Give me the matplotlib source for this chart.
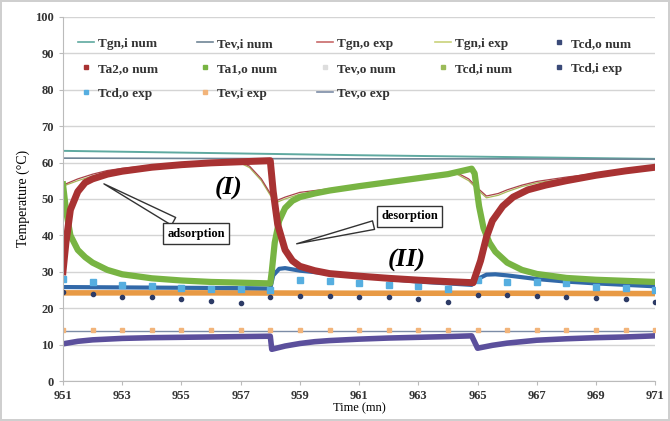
import matplotlib
matplotlib.use("Agg")
import matplotlib.pyplot as plt
from matplotlib.lines import Line2D

plt.rcParams['font.family'] = ['Liberation Serif', 'DejaVu Serif']
plt.rcParams['font.weight'] = 'bold'

# --- data ---
minutes = list(range(951, 972))

t_red = [951, 951.1, 951.25, 951.5, 951.75, 952, 952.5, 953, 954, 955, 956, 957, 958,
         958.1, 958.25, 958.5, 958.75, 959, 959.5, 960, 961, 962, 963, 964, 964.85,
         965.1, 965.3, 965.5, 965.85, 966.2, 966.7, 967.3, 968, 969, 970, 971]
ta2o_num = [30, 38, 47, 52, 54.5, 55.5, 56.8, 57.6, 58.7, 59.4, 59.9, 60.2, 60.5,
            52, 43, 36, 33, 31.5, 30.3, 29.5, 28.8, 28.2, 27.7, 27.3, 27.0,
            33, 39.5, 44, 48, 50.5, 52.5, 53.8, 55, 56.5, 57.7, 58.7]

t_green = [951, 951.1, 951.25, 951.5, 951.75, 952, 952.5, 953, 954, 955, 956, 957, 958,
           958.05, 958.15, 958.3, 958.5, 958.75, 959, 959.5, 960, 961, 962, 963, 964, 964.8,
           964.9, 965.05, 965.2, 965.4, 965.6, 966, 966.5, 967, 968, 969, 970, 971]
ta1o_num = [54, 47, 40, 36, 34, 32.5, 30.5, 29.3, 28.2, 27.6, 27.2, 27, 26.8,
            30, 38, 44, 47.5, 49.5, 50.5, 51.5, 52.3, 53.5, 54.6, 55.7, 56.8, 58.3,
            57, 48, 42, 38, 35.5, 32.5, 30.5, 29.4, 28.3, 27.8, 27.5, 27.2]

t_blue = [951, 953, 955, 957, 958, 958.1, 958.3, 958.5, 959, 960, 961, 962, 963, 964, 964.8,
          965, 965.3, 965.6, 966, 967, 968, 969, 970, 971]
tcdo_num = [25.8, 25.7, 25.6, 25.5, 25.4, 29, 30.8, 31, 30.3, 29.5, 28.8, 28, 27.3, 26.8, 26.4,
            28, 29.2, 29.3, 29, 28, 27.3, 26.8, 26.4, 26]

t_purple = [951, 951.5, 952, 953, 954, 955, 956, 957, 958,
            958.05, 958.5, 959, 959.5, 960, 961, 962, 963, 964, 964.8,
            965, 965.5, 966, 967, 968, 969, 970, 971]
tevo_num = [10.2, 10.9, 11.3, 11.7, 11.9, 12, 12.1, 12.2, 12.3,
            8.7, 9.6, 10.3, 10.8, 11.1, 11.5, 11.8, 12.0, 12.2, 12.4,
            9.0, 9.8, 10.4, 11.2, 11.6, 11.9, 12.1, 12.4]

t_flat = [951, 956, 961, 966, 971]
tcdi_num = [24.2, 24.2, 24.1, 24.1, 24.0]
tgni_num = [63.2, 62.6, 62.0, 61.5, 61.0]
tevi_num = [61.2, 61.1, 61.0, 61.0, 60.9]
tevo_exp = [13.8, 13.8, 13.8, 13.8, 13.8]

t_exp = [951, 951.5, 952, 952.5, 953, 954, 955, 956, 957, 957.3, 957.7, 958, 958.2,
         958.5, 959, 960, 961, 962, 963, 964, 964.3, 964.7, 965, 965.3, 965.7, 966,
         966.5, 967, 968, 969, 970, 971]
tgno_exp = [53.8, 55.5, 56.8, 57.8, 58.4, 59.2, 59.7, 60.0, 60.1, 59.0, 55.5, 51.5, 49.5,
            50.5, 51.8, 52.8, 53.8, 54.8, 55.8, 56.8, 57.2, 55.5, 53, 50.8, 51.5, 52.5,
            53.8, 54.8, 56, 57, 57.8, 58.6]
tgni_exp = [53.5, 55, 56.3, 57.3, 58, 58.9, 59.4, 59.7, 59.8, 58.6, 55, 51, 49,
            50, 51.3, 52.3, 53.3, 54.3, 55.3, 56.3, 56.8, 55, 52.5, 50.3, 51, 52,
            53.4, 54.4, 55.6, 56.6, 57.4, 58.2]

tcdo_exp = [28, 27.2, 26.3, 26.1, 25.6, 25.4, 25.2, 25, 27.7, 27.4, 27, 26.5, 26, 25.3,
            27.6, 27.2, 27.1, 27, 25.8, 25.5, 25.1]
tcdi_exp = [24.5, 24, 23.2, 23, 22.5, 22, 21.5, 23, 23.4, 23.3, 23.2, 23, 22.5, 21.8,
            23.6, 23.5, 23.3, 23, 22.8, 22.4, 21.8]
tevi_exp = [14.0] * 21

xticks = list(range(951, 972, 2))

# --- figure ---
fig = plt.figure(figsize=(6.7, 4.21), dpi=100)
fig.patch.set_edgecolor('#cfcfcf')
fig.patch.set_linewidth(1.5)
ax = fig.add_axes([0.094, 0.095, 0.884, 0.865])

ax.plot(t_flat, tgni_num, color='#5fa9a0', lw=1.4)
ax.plot(t_flat, tevi_num, color='#6f8596', lw=1.2)
ax.plot(t_flat, tevo_exp, color='#7c8ca6', lw=1.0)
ax.plot(t_flat, tcdi_num, color='#e89a45', lw=4)
ax.plot(minutes, tevi_exp, ls='none', marker='s', ms=3, color='#f2b47a')
ax.plot(t_purple, tevo_num, color='#5b4f9c', lw=4, solid_capstyle='butt')
ax.plot(t_blue, tcdo_num, color='#3168a8', lw=3)
ax.plot(minutes, tcdo_exp, ls='none', marker='s', ms=4.5, color='#56aee0')
ax.plot(minutes, tcdi_exp, ls='none', marker='o', ms=3, color='#2d3b66')
ax.plot(t_exp, tgni_exp, color='#a9b85a', lw=0.9)
ax.plot(t_exp, tgno_exp, color='#a8444a', lw=0.9)
ax.plot(t_green, ta1o_num, color='#78b443', lw=4.5)
ax.plot(t_red, ta2o_num, color='#a83232', lw=5)

ax.set_xlim(951, 971)
ax.set_ylim(0, 100)
ax.set_xticks(xticks)
ax.set_yticks(range(0, 101, 10))
ax.grid(axis='y', color='#d4d4d4', lw=1)
ax.set_axisbelow(True)
for s in ['top', 'right']:
    ax.spines[s].set_visible(False)
for s in ['left', 'bottom']:
    ax.spines[s].set_color('#bbbbbb')
ax.tick_params(colors='#bbbbbb', labelcolor='#333333', labelsize=9, length=3)
ax.set_ylabel('Temperature (°C)', fontsize=10, labelpad=4)
ax.set_xlabel('Time (mn)', fontsize=9, labelpad=0)

# legend (proxy handles, column-major order as in the picture)
def ln(c):
    return Line2D([], [], color=c, lw=1.2)

def mk(c):
    return Line2D([], [], ls='none', marker='s', ms=3.5, color=c)

handles = [ln('#5fa9a0'), mk('#a83232'), mk('#56aee0'),
           ln('#6f8596'), mk('#78b443'), mk('#f2b47a'),
           ln('#c86a6a'), mk('#dddddd'), ln('#7c8ca6'),
           ln('#c9d27a'), mk('#9bbb59'),
           mk('#3a4a78'), mk('#3a4a78')]
labels = ['Tgn,i num', 'Ta2,o num', 'Tcd,o exp',
          'Tev,i num', 'Ta1,o num', 'Tev,i exp',
          'Tgn,o exp', 'Tev,o num', 'Tev,o exp',
          'Tgn,i exp', 'Tcd,i num',
          'Tcd,o num', 'Tcd,i exp']
leg = ax.legend(handles, labels, ncol=5, loc='upper left', bbox_to_anchor=(0.005, 0.975),
                frameon=False, fontsize=9.5, handlelength=1.2, handletextpad=0.3,
                columnspacing=3.0, labelspacing=0.95)
for tx in leg.get_texts():
    tx.set_color('#333333')

# annotations
ax.text(956.6, 53, '(I)', fontsize=19, style='italic', fontweight='bold', ha='center', va='center')
ax.text(962.6, 33, '(II)', fontsize=19, style='italic', fontweight='bold', ha='center', va='center')
ax.annotate('adsorption', xy=(952.3, 54.5), xytext=(955.5, 40.5), fontsize=9,
            ha='center', va='center',
            bbox=dict(boxstyle='square,pad=0.35', fc='white', ec='#333333', lw=1),
            arrowprops=dict(arrowstyle='wedge,tail_width=0.7', fc='white', ec='#333333', lw=1))
ax.annotate('desorption', xy=(958.8, 37.5), xytext=(962.7, 45.2), fontsize=9,
            ha='center', va='center',
            bbox=dict(boxstyle='square,pad=0.35', fc='white', ec='#333333', lw=1),
            arrowprops=dict(arrowstyle='wedge,tail_width=0.7', fc='white', ec='#333333', lw=1))

fig.savefig('out.png', dpi=100)
